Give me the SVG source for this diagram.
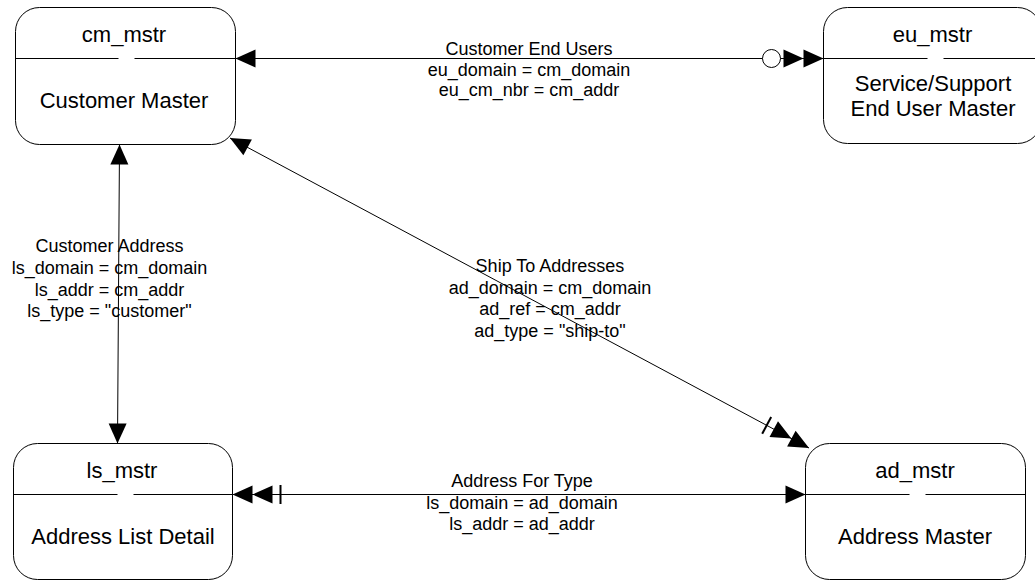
<svg xmlns="http://www.w3.org/2000/svg" width="1035" height="580" viewBox="0 0 1035 580">
<style>
.box{fill:#fff;stroke:#000;stroke-width:1}
.div{stroke:#000;stroke-width:1;fill:none}
.conn{stroke:#000;stroke-width:1;fill:none}
.t1{font-family:"Liberation Sans",Arial,sans-serif;font-size:22px;fill:#000;text-anchor:middle}
.t2{font-family:"Liberation Sans",Arial,sans-serif;font-size:18px;fill:#000;text-anchor:middle}
</style>
<defs>
<marker id="one" markerUnits="userSpaceOnUse" viewBox="-60 -12 62 24" refX="0" refY="0" markerWidth="62" markerHeight="24" orient="auto-start-reverse" overflow="visible">
<path d="M0,0 L-20,-9 L-20,9 Z" fill="#000"/>
</marker>
<marker id="manyBar" markerUnits="userSpaceOnUse" viewBox="-60 -12 62 24" refX="0" refY="0" markerWidth="62" markerHeight="24" orient="auto-start-reverse" overflow="visible">
<path d="M0,0 L-20,-9 L-20,9 Z M-20,0 L-40,-9 L-40,9 Z" fill="#000"/>
<line x1="-48" y1="-9.5" x2="-48" y2="9.5" stroke="#000" stroke-width="2"/>
</marker>
<marker id="manyCircle" markerUnits="userSpaceOnUse" viewBox="-65 -12 67 24" refX="0" refY="0" markerWidth="67" markerHeight="24" orient="auto-start-reverse" overflow="visible">
<path d="M0,0 L-20,-9 L-20,9 Z M-20,0 L-40,-9 L-40,9 Z" fill="#000"/>
<circle cx="-52" cy="0" r="9" fill="#fff" stroke="#000" stroke-width="1"/>
</marker>
</defs>

<g id="cm_mstr">
<rect class="box" x="15.5" y="7.5" width="220" height="137" rx="24" ry="24"/>
<path class="div" d="M15.5,58.5 H118.5 M134.5,58.5 H235.5"/>
<text class="t1" x="124" y="42">cm_mstr</text>
<text class="t1" x="124" y="108">Customer Master</text>
</g>

<g id="eu_mstr">
<rect class="box" x="823.5" y="7.5" width="218" height="136" rx="24" ry="24"/>
<path class="div" d="M823.5,58.5 H927.5 M943.5,58.5 H1041.5"/>
<text class="t1" x="932.5" y="42">eu_mstr</text>
<text class="t1" x="933" y="91">Service/Support</text>
<text class="t1" x="933" y="116">End User Master</text>
</g>

<g id="ls_mstr">
<rect class="box" x="13.5" y="443.5" width="219" height="136" rx="24" ry="24"/>
<path class="div" d="M13.5,494.5 H117.5 M133.5,494.5 H232.5"/>
<text class="t1" x="122" y="478">ls_mstr</text>
<text class="t1" x="123" y="544">Address List Detail</text>
</g>

<g id="ad_mstr">
<rect class="box" x="805.5" y="443.5" width="220" height="136" rx="24" ry="24"/>
<path class="div" d="M805.5,494.5 H909.5 M925.5,494.5 H1025.5"/>
<text class="t1" x="915" y="478">ad_mstr</text>
<text class="t1" x="915" y="544">Address Master</text>
</g>

<g id="connectors">
<line class="conn" x1="235.5" y1="58.5" x2="823.5" y2="58.5" marker-start="url(#one)" marker-end="url(#manyCircle)"/>
<line class="conn" x1="119.5" y1="144.5" x2="117.5" y2="443.5" marker-start="url(#one)" marker-end="url(#one)"/>
<line class="conn" x1="230" y1="138" x2="809" y2="448" marker-start="url(#one)" marker-end="url(#manyBar)"/>
<line class="conn" x1="232.5" y1="494.5" x2="805.5" y2="494.5" marker-start="url(#manyBar)" marker-end="url(#one)"/>

<text class="t2" x="529" y="55">Customer End Users</text>
<text class="t2" x="529" y="76">eu_domain = cm_domain</text>
<text class="t2" x="529" y="96">eu_cm_nbr = cm_addr</text>

<text class="t2" x="109.5" y="252">Customer Address</text>
<text class="t2" x="109.5" y="274">ls_domain = cm_domain</text>
<text class="t2" x="109.5" y="296">ls_addr = cm_addr</text>
<text class="t2" x="109.5" y="317">ls_type = "customer"</text>

<text class="t2" x="550" y="272">Ship To Addresses</text>
<text class="t2" x="550" y="293.5">ad_domain = cm_domain</text>
<text class="t2" x="550" y="315">ad_ref = cm_addr</text>
<text class="t2" x="550" y="336.5">ad_type = "ship-to"</text>

<text class="t2" x="522" y="487">Address For Type</text>
<text class="t2" x="522" y="509">ls_domain = ad_domain</text>
<text class="t2" x="522" y="530">ls_addr = ad_addr</text>
</g>
</svg>
